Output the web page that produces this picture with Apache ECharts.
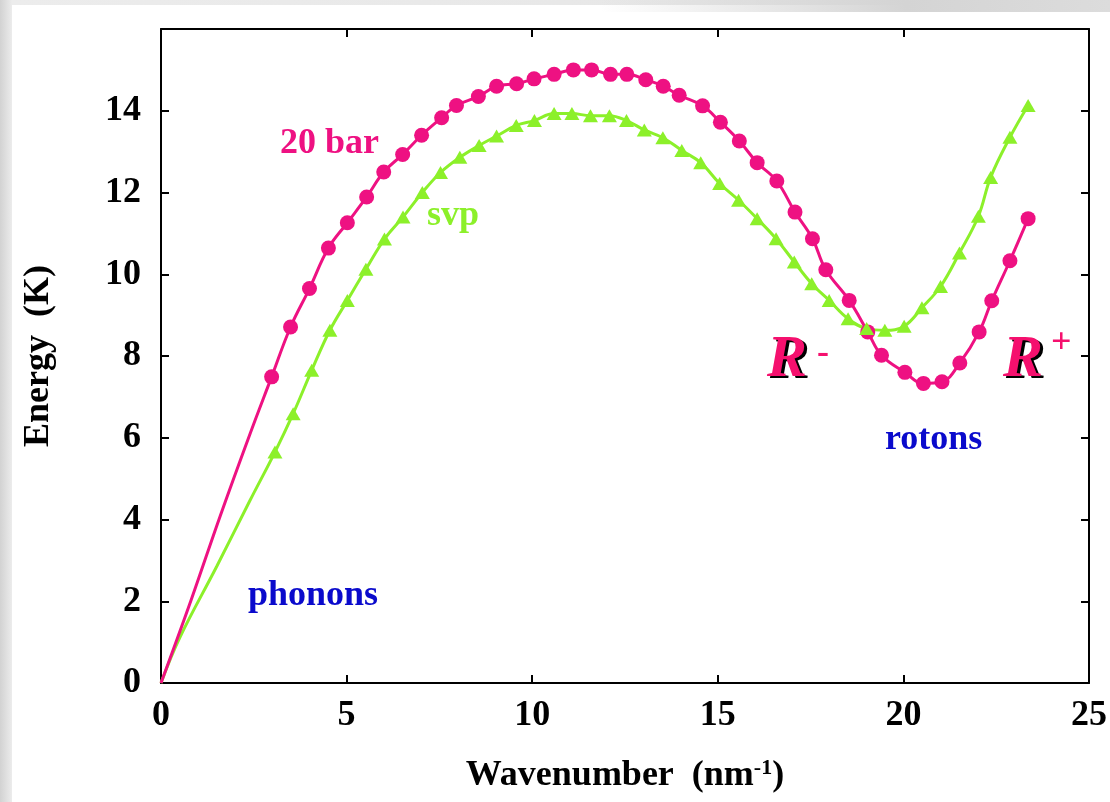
<!DOCTYPE html>
<html>
<head>
<meta charset="utf-8">
<script src="https://cdn.jsdelivr.net/npm/echarts@6/dist/echarts.min.js"></script>
<style>
  html, body { margin: 0; padding: 0; }
  body { width: 1110px; height: 802px; position: relative; overflow: hidden;
         background: linear-gradient(to right, #d2d2d2, #ececec 12px, #e4e4e4); }
  .panel { position: absolute; left: 12px; top: 5px; right: 0; bottom: 0; background: #fff; }
  .topband { position: absolute; left: 600px; top: 0; right: 0; height: 12px;
             background: linear-gradient(to right, rgba(220,220,220,0), #d4d4d4 60%, #dcdcdc); }
  #chart { position: absolute; left: 0; top: 0; width: 1110px; height: 802px; }
</style>
</head>
<body>
<div class="panel"></div>
<div class="topband"></div>
<div id="chart"></div>
<script>
// 20 bar, measured points (circles)
const q20 = [2.98, 3.49, 4.00, 4.51, 5.02, 5.54, 6.00, 6.51, 7.02, 7.56, 7.96, 8.55, 9.04, 9.58,
  10.05, 10.59, 11.11, 11.60, 12.11, 12.55, 13.06, 13.53, 13.96, 14.59, 15.07, 15.58, 16.06,
  16.59, 17.08, 17.55, 17.91, 18.54, 19.04, 19.41, 20.04, 20.54, 21.04, 21.52, 22.04, 22.38,
  22.87, 23.36];
const e20 = [7.49, 8.71, 9.65, 10.64, 11.26, 11.89, 12.50, 12.93, 13.40, 13.83, 14.13, 14.35,
  14.60, 14.66, 14.78, 14.89, 15.00, 15.00, 14.89, 14.89, 14.76, 14.60, 14.38, 14.12, 13.72,
  13.26, 12.73, 12.28, 11.52, 10.87, 10.11, 9.36, 8.59, 8.02, 7.60, 7.33, 7.37, 7.83, 8.59,
  9.35, 10.33, 11.36];

// svp, measured points (triangles)
const qSvp = [3.07, 3.56, 4.06, 4.55, 5.02, 5.52, 6.02, 6.52, 7.04, 7.53, 8.05, 8.57, 9.04,
  9.57, 10.06, 10.59, 11.07, 11.57, 12.08, 12.54, 13.02, 13.52, 14.03, 14.54, 15.05, 15.56,
  16.06, 16.57, 17.06, 17.53, 18.00, 18.51, 19.01, 19.50, 20.02, 20.50, 21.00, 21.51, 22.02,
  22.35, 22.87, 23.36];
const eSvp = [5.65, 6.59, 7.65, 8.63, 9.36, 10.12, 10.86, 11.40, 12.00, 12.49, 12.86, 13.15,
  13.38, 13.64, 13.76, 13.93, 13.93, 13.88, 13.88, 13.76, 13.53, 13.34, 13.03, 12.73, 12.22,
  11.81, 11.36, 10.87, 10.30, 9.77, 9.36, 8.91, 8.67, 8.63, 8.73, 9.18, 9.70, 10.52, 11.42,
  12.37, 13.35, 14.13];

// fitted curves below the first measured point (phonon part)
const q20Low = [0, 0.8, 1.6, 2.4];
const e20Low = [0, 2.0, 4.1, 6.1];
const qSvpLow = [0, 0.5, 1.5, 2.4];
const eSvpLow = [0, 1.1, 2.85, 4.47];

const PINK = '#ee1182';
const RED_PINK = '#f5106e';
const GREEN = '#8cf02a';
const BLUE = '#0a0acc';
const FONT = '"Liberation Serif", "Times New Roman", serif';

const zip = (xs, ys) => xs.map((x, i) => [x, ys[i]]);

const chart = echarts.init(document.getElementById('chart'));

const axisLine = { show: true, onZero: false, lineStyle: { color: '#000', width: 2 } };
const axisTick = { show: true, inside: true, length: 8, lineStyle: { color: '#000', width: 2 } };
const tickFont = { fontFamily: FONT, fontSize: 36, fontWeight: 'bold', color: '#000' };

const textEl = (text, x, y, color, font) => ({
  type: 'text',
  z: 100,
  style: {
    text: text, x: x, y: y,
    fill: color,
    font: font || ('bold 36px ' + FONT),
    textVerticalAlign: 'middle'
  }
});
const italicR = 'italic bold 60px ' + FONT;

const option = {
  backgroundColor: 'transparent',
  animation: false,
  grid: { left: 161, right: 21, top: 29, bottom: 119 },
  xAxis: [
    {
      type: 'value', min: 0, max: 25, interval: 5, position: 'bottom',
      axisLine: axisLine, axisTick: axisTick, splitLine: { show: false },
      axisLabel: Object.assign({ margin: 15 }, tickFont),
      name: '{t|Wavenumber  (nm}{s|-1}{t|)}',
      nameLocation: 'middle',
      nameGap: 74,
      nameTextStyle: {
        rich: {
          t: { fontFamily: FONT, fontSize: 36, fontWeight: 'bold', color: '#000' },
          s: { fontFamily: FONT, fontSize: 22, fontWeight: 'bold', color: '#000',
               verticalAlign: 'top', padding: [0, 0, 16, 0] }
        }
      }
    },
    {
      type: 'value', min: 0, max: 25, interval: 5, position: 'top',
      axisLine: axisLine, axisTick: axisTick, splitLine: { show: false },
      axisLabel: { show: false }
    }
  ],
  yAxis: [
    {
      type: 'value', min: 0, max: 16, interval: 2, position: 'left',
      axisLine: axisLine, axisTick: axisTick, splitLine: { show: false },
      axisLabel: Object.assign({ margin: 20, showMaxLabel: false }, tickFont),
      name: 'Energy  (K)',
      nameLocation: 'middle',
      nameGap: 104,
      nameTextStyle: { fontFamily: FONT, fontSize: 36, fontWeight: 'bold', color: '#000' }
    },
    {
      type: 'value', min: 0, max: 16, interval: 2, position: 'right',
      axisLine: axisLine, axisTick: axisTick, splitLine: { show: false },
      axisLabel: { show: false }
    }
  ],
  series: [
    {
      name: 'svp fit', type: 'line', smooth: 0.4, showSymbol: false,
      data: zip(qSvpLow.concat(qSvp), eSvpLow.concat(eSvp)),
      lineStyle: { color: GREEN, width: 3 }, z: 2
    },
    {
      name: '20 bar fit', type: 'line', smooth: 0.4, showSymbol: false,
      data: zip(q20Low.concat(q20), e20Low.concat(e20)),
      lineStyle: { color: PINK, width: 3 }, z: 2
    },
    {
      name: '20 bar', type: 'scatter', symbol: 'circle', symbolSize: 15,
      data: zip(q20, e20),
      itemStyle: { color: PINK, opacity: 1 }, z: 3
    },
    {
      name: 'svp', type: 'scatter', symbol: 'triangle', symbolSize: [15, 13],
      data: zip(qSvp, eSvp),
      itemStyle: { color: GREEN, opacity: 1 }, z: 4
    }
  ],
  graphic: [
    textEl('20 bar', 280, 144, PINK),
    textEl('svp', 427, 216, GREEN),
    textEl('phonons', 248, 596, BLUE),
    textEl('rotons', 885, 440, BLUE),
    // R labels with a black drop copy behind
    textEl('R', 770, 362, '#000', italicR),
    textEl('R', 767, 360, RED_PINK, italicR),
    textEl('-', 817, 354, RED_PINK),
    textEl('R', 1006, 362, '#000', italicR),
    textEl('R', 1003, 360, RED_PINK, italicR),
    textEl('+', 1051, 344, RED_PINK)
  ]
};

chart.setOption(option);
</script>
</body>
</html>
